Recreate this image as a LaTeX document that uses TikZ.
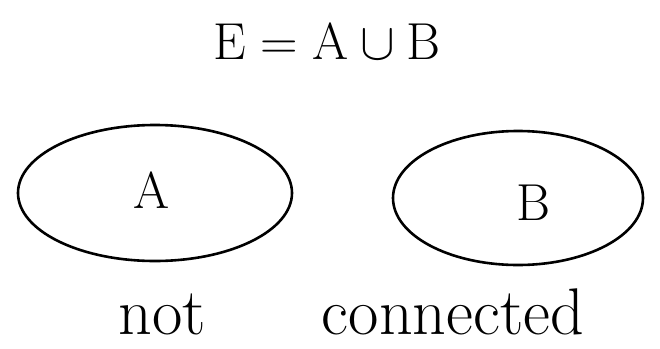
\RequirePackage{fix-cm}
\documentclass[tikz,border=0pt]{standalone}
\begin{document}
\begin{tikzpicture}[x=1pt,y=-1pt,
  setline/.style={line width=2.6pt},
  lbl/.style={inner sep=0pt, font=\fontsize{52}{52}\selectfont},
  word/.style={inner sep=0pt, anchor=base, font=\fontsize{66}{66}\selectfont}]
\useasboundingbox (0,0) rectangle (660,348);
\node[lbl] (title) at (327,42) {$\mathrm{E} = \mathrm{A} \cup \mathrm{B}$};
\draw[setline] (155,193) ellipse [x radius=137, y radius=68];
\draw[setline] (518,198) ellipse [x radius=125, y radius=67];
\node[lbl] (a) at (152,190) {A};
\node[lbl] (b) at (533,203) {B};
\node[word] (not) at (162,334) {not};
\node[word] (conn) at (453,334) {connected};
\end{tikzpicture}
\end{document}
